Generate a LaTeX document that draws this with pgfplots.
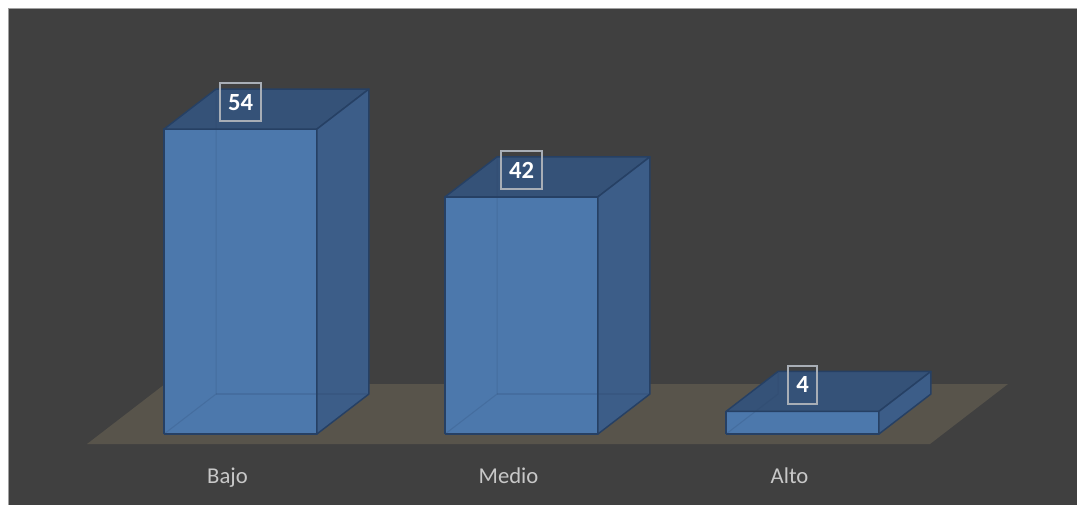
\documentclass[border=0pt]{standalone}
\usepackage{fontspec}
\setmainfont{Carlito}
\usepackage{pgfplots}
\pgfplotsset{compat=1.18}
\definecolor{bg}{RGB}{64,64,64}
\definecolor{framec}{RGB}{160,160,160}
\definecolor{floorc}{RGB}{88,84,75}
\definecolor{frontc}{RGB}{76,120,172}
\definecolor{topc}{RGB}{53,82,120}
\definecolor{sidec}{RGB}{60,93,136}
\definecolor{edgec}{RGB}{38,64,100}
\definecolor{labc}{RGB}{200,200,200}
\definecolor{boxc}{RGB}{168,174,182}
\begin{document}
\begin{tikzpicture}
\fill[white] (-3pt,-3pt) rectangle (811pt,381pt);
\fill[bg] (6.75pt,-3pt) rectangle (811pt,371.25pt);
\draw[framec, line width=1.2pt] (6.4pt,-3pt) -- (6.4pt,371.6pt) -- (811pt,371.6pt);
\begin{axis}[
  at={(170.625pt,45pt)}, anchor=origin,
  x={(210.75pt,0pt)}, y={(58.5pt,45pt)}, z={(0pt,4.235pt)},
  xmin=-0.5, xmax=2.5, ymin=0, ymax=1, zmin=0, zmax=60,
  clip=false,
  no markers,
  axis line style={draw=none},
  major tick length=0pt,
  xtick={0,1,2}, xticklabels={Bajo,Medio,Alto},
  ytick=\empty, ztick=\empty,
  x tick label style={font=\fontsize{17pt}{20pt}\selectfont, text=labc, anchor=base, yshift=-29.5pt},
  bar/.style={draw=edgec, line width=1.1pt, line join=round},
  hid/.style={draw=edgec, draw opacity=0.18, line width=0.8pt},
]
% floor
\addplot3[fill=floorc, draw=none] coordinates {(-0.5,0,0) (2.5,0,0) (2.5,1,0) (-0.5,1,0) (-0.5,0,0)};
% Bajo 54
\addplot3[bar, fill=frontc] coordinates {(-0.272,0.16667,0) (0.272,0.16667,0) (0.272,0.16667,54) (-0.272,0.16667,54) (-0.272,0.16667,0)};
\addplot3[bar, fill=topc] coordinates {(-0.272,0.16667,54) (0.272,0.16667,54) (0.272,0.83333,54) (-0.272,0.83333,54) (-0.272,0.16667,54)};
\addplot3[bar, fill=sidec] coordinates {(0.272,0.16667,0) (0.272,0.83333,0) (0.272,0.83333,54) (0.272,0.16667,54) (0.272,0.16667,0)};
\addplot3[hid] coordinates {(-0.272,0.16667,0) (-0.272,0.83333,0) (-0.272,0.83333,54)};
\addplot3[hid] coordinates {(-0.272,0.83333,0) (0.272,0.83333,0)};
% Medio 42
\addplot3[bar, fill=frontc] coordinates {(0.728,0.16667,0) (1.272,0.16667,0) (1.272,0.16667,42) (0.728,0.16667,42) (0.728,0.16667,0)};
\addplot3[bar, fill=topc] coordinates {(0.728,0.16667,42) (1.272,0.16667,42) (1.272,0.83333,42) (0.728,0.83333,42) (0.728,0.16667,42)};
\addplot3[bar, fill=sidec] coordinates {(1.272,0.16667,0) (1.272,0.83333,0) (1.272,0.83333,42) (1.272,0.16667,42) (1.272,0.16667,0)};
\addplot3[hid] coordinates {(0.728,0.16667,0) (0.728,0.83333,0) (0.728,0.83333,42)};
\addplot3[hid] coordinates {(0.728,0.83333,0) (1.272,0.83333,0)};
% Alto 4
\addplot3[bar, fill=frontc] coordinates {(1.728,0.16667,0) (2.272,0.16667,0) (2.272,0.16667,4) (1.728,0.16667,4) (1.728,0.16667,0)};
\addplot3[bar, fill=topc] coordinates {(1.728,0.16667,4) (2.272,0.16667,4) (2.272,0.83333,4) (1.728,0.83333,4) (1.728,0.16667,4)};
\addplot3[bar, fill=sidec] coordinates {(2.272,0.16667,0) (2.272,0.83333,0) (2.272,0.83333,4) (2.272,0.16667,4) (2.272,0.16667,0)};
\addplot3[hid] coordinates {(1.728,0.16667,0) (1.728,0.83333,0) (1.728,0.83333,4)};
% value labels
\addplot3[draw=none, point meta=explicit symbolic, nodes near coords,
  every node near coord/.append style={anchor=center, yshift=20pt, draw=boxc, line width=1.4pt,
    text=white, font=\bfseries\fontsize{18.5pt}{21pt}\selectfont,
    minimum height=28.5pt, inner xsep=6.2pt, inner ysep=0pt}]
  coordinates {(0,0.16667,54) [54] (1,0.16667,42) [42] (2,0.16667,4) [4]};
\end{axis}
\pgfresetboundingbox
\useasboundingbox (0,0) rectangle (807.75pt,378pt);
\end{tikzpicture}
\end{document}
